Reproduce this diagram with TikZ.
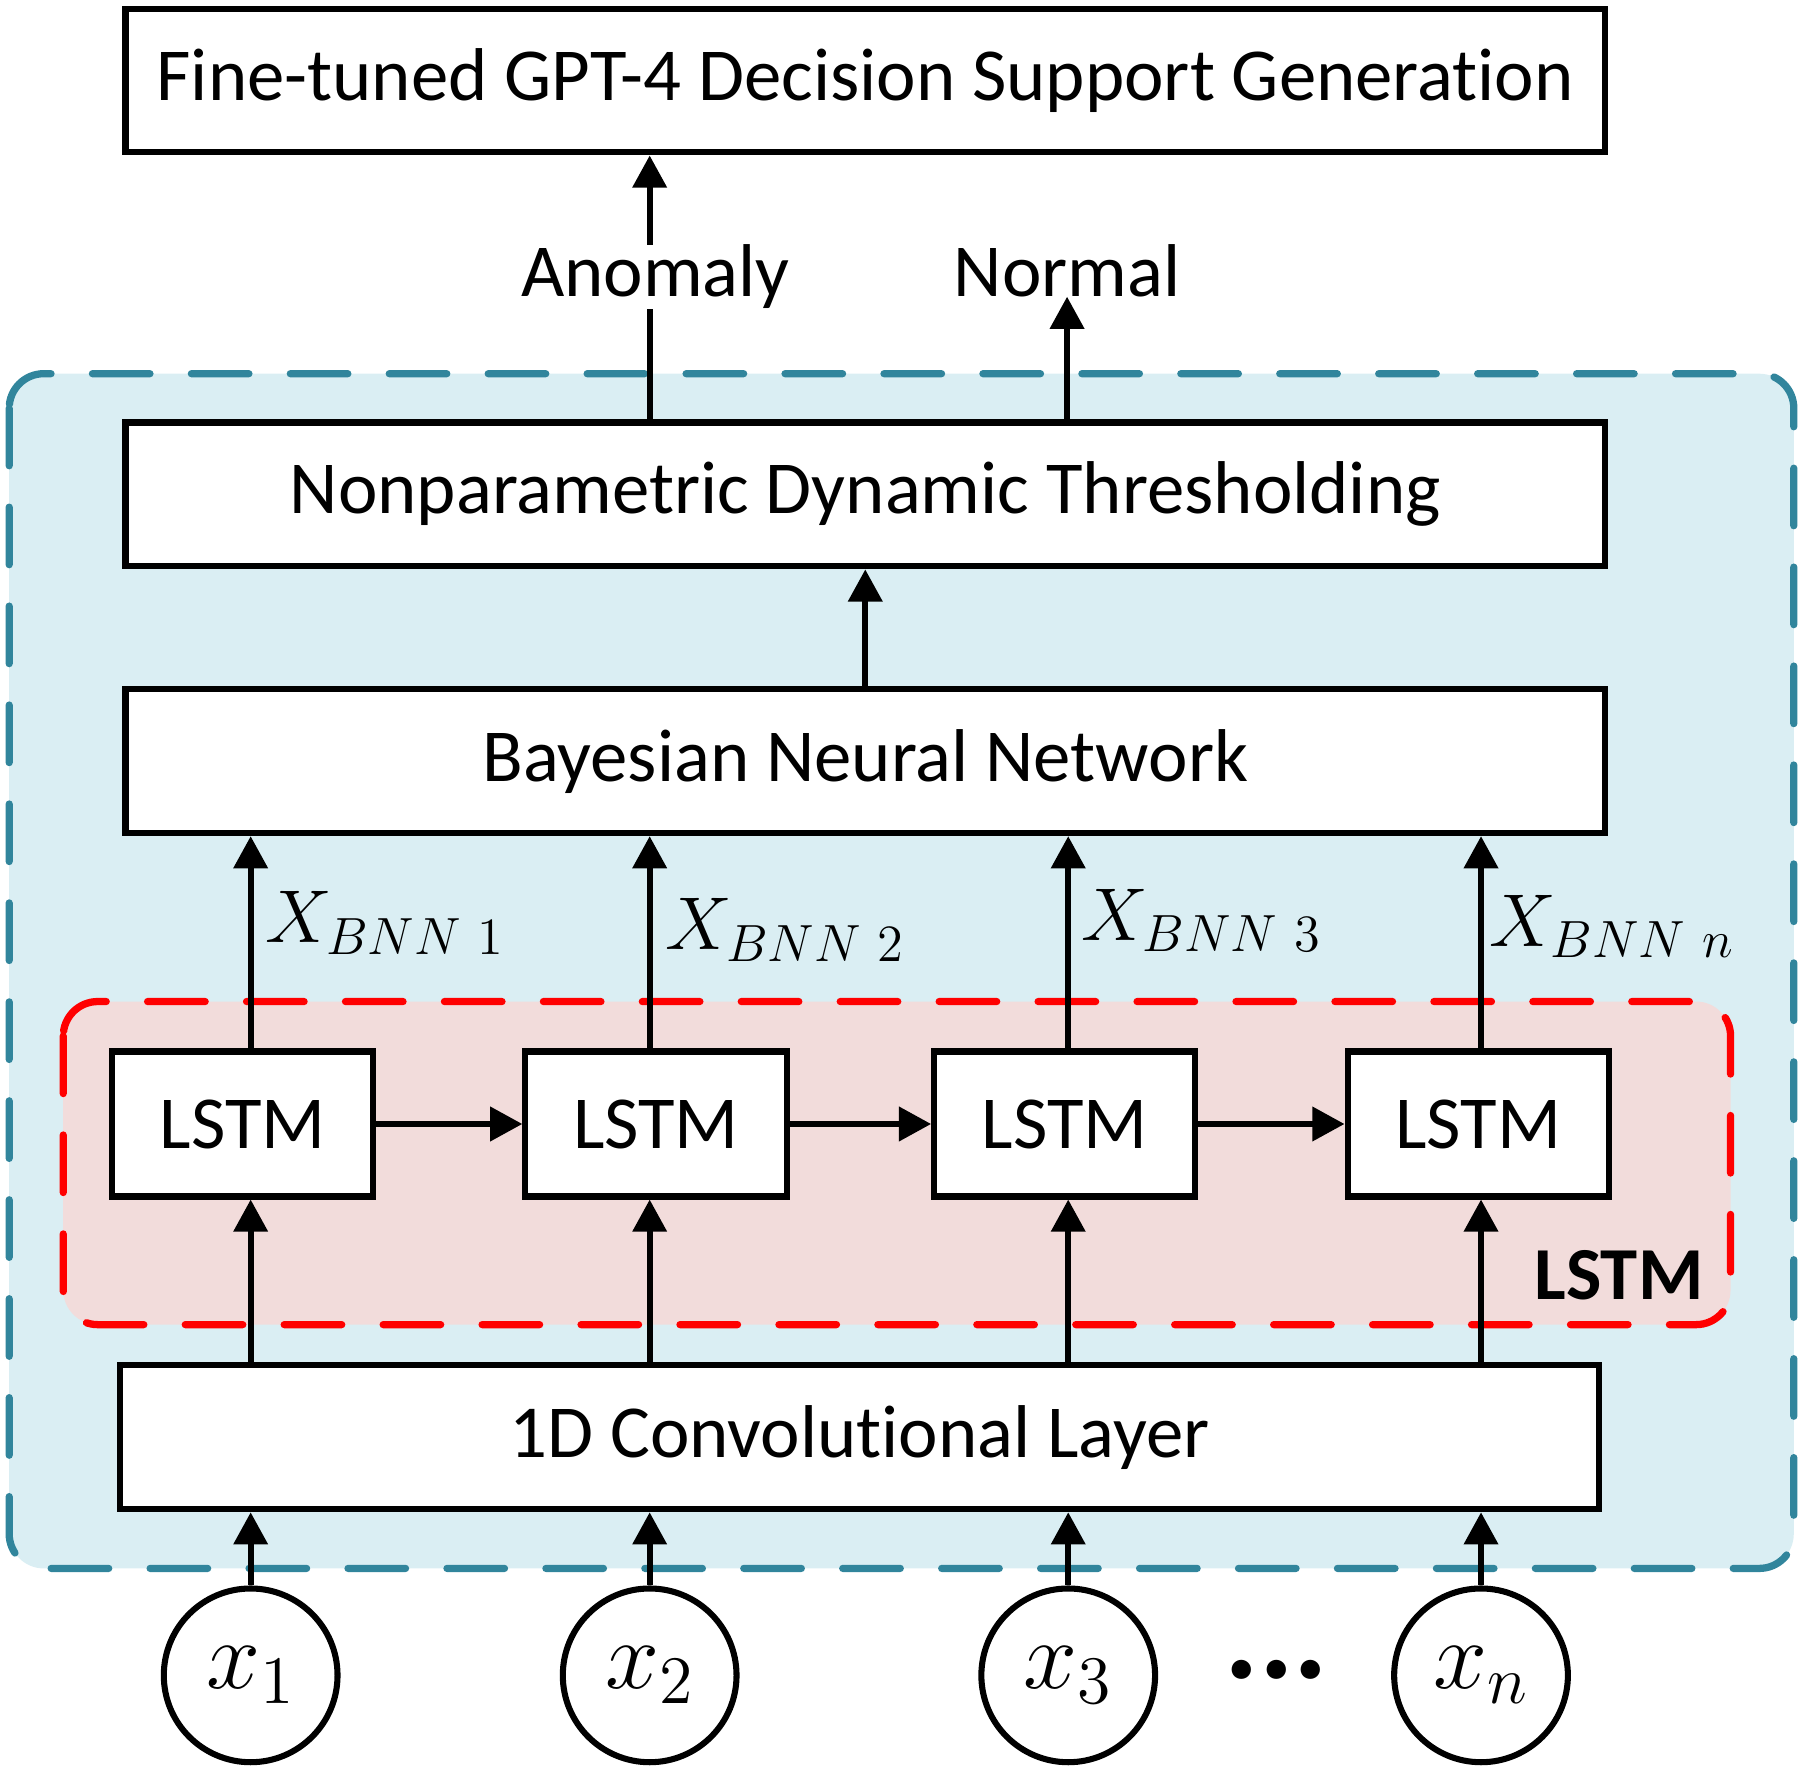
\RequirePackage{fix-cm}
\documentclass[tikz,border=0pt]{standalone}
\usepackage{amsmath}
\usepackage{fontspec}
\setmainfont{Carlito}[Ligatures=NoCommon]
\usetikzlibrary{arrows.meta,calc}
\definecolor{regionblue}{HTML}{DAEEF3}
\definecolor{regionedge}{HTML}{31859C}
\definecolor{regionpink}{HTML}{F2DCDB}

\begin{document}
\begin{tikzpicture}[x=0.01cm, y=-0.01cm,
    block/.style={draw, line width=1.5pt, fill=white, minimum width=12.86cm, minimum height=1.25cm, inner sep=0pt, font=\fontsize{18.5}{22}\selectfont},
    cell/.style={draw, line width=1.5pt, fill=white, minimum width=2.27cm, minimum height=1.26cm, inner sep=0pt, font=\fontsize{18.5}{22}\selectfont},
    inp/.style={draw, circle, line width=1.5pt, minimum size=1.51cm, inner sep=0pt, font=\fontsize{24}{26}\selectfont},
    arr/.style={line width=1.5pt, -{Triangle[length=2.8mm, width=2.9mm]}},
    lbl/.style={inner sep=0pt, font=\fontsize{18.5}{22}\selectfont},
    region/.style={rounded corners=0.3cm, line width=1.8pt, dash pattern=on 0.5cm off 0.36cm, line cap=round}]

    \useasboundingbox (0,0) rectangle (1568,1555);
    \draw[region, fill=regionblue, draw=regionedge] (8,325) rectangle (1560,1364);
    \draw[region, fill=regionpink, draw=red] (55,871) rectangle (1505,1152);

    \node[block] (top) at (752.5,70) {Fine-tuned GPT-4 Decision Support Generation};
    \node[block] (ndt) at (752.5,430) {Nonparametric Dynamic Thresholding};
    \node[block] (bnn) at (752.5,662) {Bayesian Neural Network};
    \node[block] (conv) at (747.5,1250) {1D Convolutional Layer};

    \node[cell] (lstm1) at (211,977.5) {LSTM};
    \node[cell] (lstm2) at (570.5,977.5) {LSTM};
    \node[cell] (lstm3) at (926,977.5) {LSTM};
    \node[cell] (lstm4) at (1285.5,977.5) {LSTM};
    \node[lbl, font=\fontsize{18.5}{22}\selectfont\bfseries, anchor=base east] (lstmtag) at (1482,1130) {LSTM};

    \node[inp] (x1) at (218,1457) {$x_1$};
    \node[inp] (x2) at (565,1457) {$x_2$};
    \node[inp] (x3) at (929,1457) {$x_3$};
    \node[inp] (x4) at (1288,1457) {$x_n$};
    \node[lbl, font=\fontsize{32}{34}\selectfont\bfseries] (dots) at (1110,1452) {...};

    \foreach \i in {1,...,4} {
      \draw[arr] (x\i.north) -- (x\i.north |- conv.south);
      \draw[arr] (conv.north -| x\i) -- (lstm\i.south -| x\i);
      \draw[arr] (lstm\i.north -| x\i) -- (bnn.south -| x\i);
    }
    \foreach \i/\j in {1/2,2/3,3/4}
      \draw[arr] (lstm\i) -- (lstm\j);

    \node[lbl, anchor=base west] (xb1) at (230,820) {$X_{BNN\ 1}$};
    \node[lbl, anchor=base west] (xb2) at (578,826) {$X_{BNN\ 2}$};
    \node[lbl, anchor=base west] (xb3) at (940,818) {$X_{BNN\ 3}$};
    \node[lbl, anchor=base west] (xb4) at (1295,823) {$X_{BNN\ n}$};

    \draw[arr] (bnn) -- (ndt);
    \draw[arr] (ndt.north -| x2) -- (top.south -| x2);
    \node[lbl, fill=white, anchor=base] (anomaly) at (570,258) {Anomaly};
    \node[lbl, anchor=base] (normal) at (928,258) {Normal};
    \draw[arr] (ndt.north -| normal) -- (normal.base);
\end{tikzpicture}
\end{document}
